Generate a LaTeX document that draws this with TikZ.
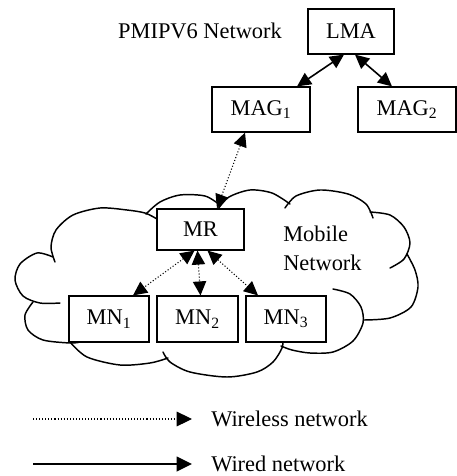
\documentclass[tikz,border=0pt]{standalone}
\usepackage{fontspec}
\setmainfont{Liberation Serif}
\usetikzlibrary{arrows.meta,calc}
\begin{document}
\begin{tikzpicture}[x=0.75pt,y=-0.75pt,
  txt/.style={font=\fontsize{16.8}{21.75}\selectfont,inner sep=0pt},
  box/.style={txt,draw,line width=0.9pt,fill=white},
  wired/.style={line width=1.2pt,{Triangle[length=10.5pt,width=10pt]}-{Triangle[length=10.5pt,width=10pt]}},
  wless/.style={line width=0.8pt,dash pattern=on 0.8pt off 1.5pt,{Triangle[length=10.5pt,width=10pt]}-{Triangle[length=10.5pt,width=10pt]}},
  cloudline/.style={line width=1.1pt,line cap=round}]
\useasboundingbox (0,0) rectangle (457,476);
% cloud
\begin{scope}[cloudline]
\draw plot[smooth] coordinates {(55,262) (51,247) (56,230) (73,215) (100,208) (127,210) (145,213) (157,219)};
\draw plot[smooth] coordinates {(146,214) (160,202) (180,195) (205,196) (220,205)};
\draw plot[smooth] coordinates {(218,209) (229,197) (250,190) (272,193) (290,204)};
\draw plot[smooth] coordinates {(285,208) (296,196) (320,190) (348,194) (366,204) (373,218)};
\draw plot[smooth] coordinates {(370,212) (390,215) (404,227) (410,243) (404,259) (390,268)};
\draw plot[smooth] coordinates {(407,254) (415,270) (418,287) (411,307) (390,318) (364,320)};
\draw plot[smooth] coordinates {(333,289) (350,294) (361,307) (363,323) (353,341) (333,352) (310,353) (292,350) (281,346)};
\draw plot[smooth] coordinates {(163,352) (170,362) (190,372) (227,377) (257,372) (273,362) (282,348) (283,338)};
\draw plot[smooth] coordinates {(70,342) (87,357) (120,365) (150,363) (168,358)};
\draw plot[smooth] coordinates {(33,302) (25,315) (28,330) (43,340) (70,343) (80,342)};
\draw plot[smooth] coordinates {(53,257) (37,253) (20,264) (15,280) (23,296) (40,303) (60,303)};
\end{scope}
% nodes
\node[txt] (pm) at (200,31) {PMIPV6 Network};
\node[box,minimum width=64.5pt,minimum height=33.75pt] (LMA) at (351,31.5) {LMA};
\node[box,minimum width=73.5pt,minimum height=33.75pt] (MAG1) at (261,109.5) {MAG\textsubscript{1}};
\node[box,minimum width=73.5pt,minimum height=33.75pt] (MAG2) at (407,109.5) {MAG\textsubscript{2}};
\node[box,minimum width=65.25pt,minimum height=30.75pt] (MR) at (200.5,229.5) {MR};
\node[box,minimum width=60pt,minimum height=34.5pt] (MN1) at (109,319) {MN\textsubscript{1}};
\node[box,minimum width=60.75pt,minimum height=34.5pt] (MN2) at (197.5,319) {MN\textsubscript{2}};
\node[box,minimum width=60pt,minimum height=34.5pt] (MN3) at (286,319) {MN\textsubscript{3}};
\node[txt,align=left,anchor=west] (mob) at (283,248) {Mobile\\Network};
% connectors
\draw[wired] ($(MAG1.north)+(36,0)$) -- ($(LMA.south)+(-7,0)$);
\draw[wired] ($(LMA.south)+(4,0)$) -- ($(MAG2.north)+(-15,0)$);
\draw[wless] ($(MR.north)+(16.5,0)$) -- ($(MAG1.south)+(-16,0)$);
\draw[wless] ($(MR.south)+(-6,0)$) -- ($(MN1.north)+(24,0)$);
\draw[wless] ($(MR.south)+(-3,0)$) -- ($(MN2.north)+(3,0)$);
\draw[wless] ($(MR.south)+(7,0)$) -- ($(MN3.north)+(-28,0)$);
% legend
\node[txt,anchor=west] (wl) at (211,419) {Wireless network};
\node[txt,anchor=west] (wd) at (211,464) {Wired network};
\coordinate (w1) at (33,419);
\coordinate (d1) at (33,464);
\draw[line width=0.8pt,dash pattern=on 0.8pt off 1.5pt,-{Triangle[length=11.5pt,width=11pt]}] (w1) -- ($(wl.west)+(-19,0)$);
\draw[line width=1.2pt,-{Triangle[length=11.5pt,width=11pt]}] (d1) -- ($(wd.west)+(-19,0)$);
\end{tikzpicture}
\end{document}
